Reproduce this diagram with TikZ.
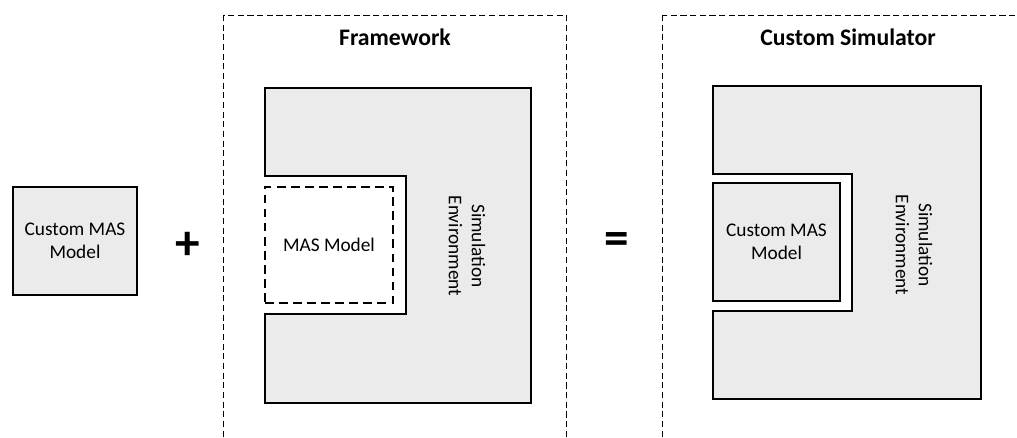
\documentclass[tikz,border=0pt]{standalone}
\usepackage{fontspec}
\setmainfont{Carlito}
\usetikzlibrary{positioning}

\tikzset{
    frame/.style={draw, dashed, line width=0.5pt, dash pattern=on 3.5pt off 2pt},
    envshape/.style={draw, fill=black!8, line width=1.1pt},
    masbox/.style={draw, line width=1.1pt, minimum width=2.54cm, minimum height=2.32cm, inner sep=0pt},
    label/.style={font=\fontsize{11}{13}\selectfont, align=center},
    title/.style={font=\fontsize{13.5}{15}\selectfont\bfseries},
    sign/.style={font=\fontsize{28}{28}\selectfont\bfseries, inner sep=0pt}
}

\begin{document}
\begin{tikzpicture}[x=0.02cm, y=-0.02cm]
    \useasboundingbox (0,0) rectangle (1017,438);
    \clip (0,0) rectangle (1017,438);
    % left part: the custom model alone
    \node[masbox, fill=black!8, minimum width=2.48cm, minimum height=2.16cm] (custom) at (75,241) {};
    \node[label] (customtxt) at (custom.center) {Custom MAS\\Model};
    \node[sign] (plus) at (188,246) {+};
    %
    % the framework
    \draw[frame] (223,15) rectangle (566,470);% dashed frame, open to the bottom
    \node[title] (fwtitle) at (395,37) {Framework};
    \draw[envshape] (265,88) -- (531,88) -- (531,403) -- (265,403) -- (265,314)
        -- (406,314) -- (406,176) -- (265,176) -- cycle;% environment with the hole
    \node[masbox, dashed, dash pattern=on 5pt off 3pt, minimum width=2.56cm] (fwmas) at (329,245) {};
    \node[label] (fwmastxt) at (fwmas.center) {MAS Model};
    \node[label, rotate=-90] (fwenv) at (467,246) {Simulation\\Environment};
    %
    \node[sign] (equals) at (617,244) {=};
    %
    % the custom simulator
    \draw[frame] (662,15) rectangle (1060,470);% dashed frame, runs off the page
    \node[title] (simtitle) at (848,37) {Custom Simulator};
    \draw[envshape] (713,86) -- (981,86) -- (981,399) -- (713,399) -- (713,311)
        -- (852,311) -- (852,174) -- (713,174) -- cycle;% environment with the hole
    \node[masbox, fill=black!8, minimum width=2.54cm, minimum height=2.36cm] (simmas) at (776.5,242) {};
    \node[label] (simmastxt) at (simmas.center) {Custom MAS\\Model};
    \node[label, rotate=-90] (simenv) at (914,245) {Simulation\\Environment};
\end{tikzpicture}
\end{document}
